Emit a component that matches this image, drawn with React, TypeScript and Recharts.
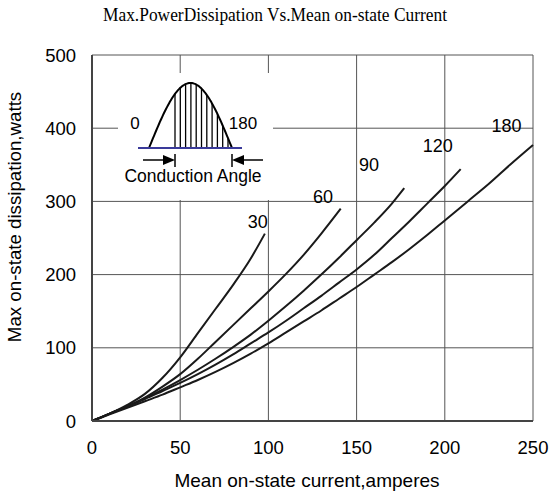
import React from 'react';
import {
  LineChart, Line, XAxis, YAxis, CartesianGrid, ReferenceDot,
} from 'recharts';

// [mean current (A), max dissipation (W)]
const angle30: [number, number][] = [[0, 0], [10, 10], [20, 22], [30, 37], [40, 59], [50, 87], [60, 120], [70, 153], [80, 186], [90, 222], [98, 256]];
const angle60: [number, number][] = [[0, 0], [10, 10], [20, 20], [30, 32], [40, 47], [50, 64], [60, 85], [70, 108], [80, 131], [90, 154], [100, 177], [110, 201], [120, 227], [130, 256], [141, 290]];
const angle90: [number, number][] = [[0, 0], [10, 10], [20, 20], [30, 31], [40, 43], [50, 56], [60, 70], [70, 85], [80, 101], [90, 118], [100, 137], [110, 157], [120, 178], [130, 200], [140, 223], [150, 247], [160, 271], [170, 297], [177, 318]];
const angle120: [number, number][] = [[0, 0], [10, 10], [20, 20], [30, 30], [40, 41], [50, 52], [60, 64], [70, 77], [80, 91], [90, 106], [100, 121], [110, 137], [120, 154], [130, 171], [140, 189], [150, 207], [160, 227], [170, 250], [180, 273], [190, 297], [200, 321], [209, 344]];
const angle180: [number, number][] = [[0, 0], [10, 9], [20, 18], [30, 27], [40, 36], [50, 46], [60, 56], [70, 67], [80, 79], [90, 92], [100, 106], [110, 121], [120, 136], [130, 151], [140, 167], [150, 183], [160, 200], [170, 217], [180, 235], [190, 254], [200, 274], [213, 300], [225, 324], [237, 350], [250, 377]];

const xTicks = [0, 50, 100, 150, 200, 250];
const yTicks = [0, 100, 200, 300, 400, 500];

const curveLabels = [
  { text: '30', x: 94, y: 273 },
  { text: '60', x: 131, y: 306 },
  { text: '90', x: 157, y: 350 },
  { text: '120', x: 196, y: 376 },
  { text: '180', x: 235, y: 404 },
];

const series = [angle30, angle60, angle90, angle120, angle180];

const FONT = '"Liberation Sans", Arial, sans-serif';

function toRows(pts: [number, number][]) {
  return pts.map(([x, y]) => ({ x, y }));
}

// title, axis titles and the conduction-angle sketch, drawn over the chart
function Overlay() {
  const x0 = 149, x1 = 232, base = 148, amp = 65;
  const wave = (x: number) => base - amp * Math.sin((Math.PI * (x - x0)) / (x1 - x0));
  const pts: string[] = [];
  for (let x = x0; x <= x1; x += 1) pts.push(`${x},${wave(x).toFixed(1)}`);
  const hatch: number[] = [];
  for (let x = 175; x <= 229; x += 5.3) hatch.push(x);
  return (
    <svg width={554} height={495} style={{ position: 'absolute', left: 0, top: 0, pointerEvents: 'none' }}>
      <text x={103} y={21} textLength={344} lengthAdjust="spacingAndGlyphs"
        style={{ fontFamily: '"Liberation Serif", serif', fontSize: 18.5 }} fill="#000">
        Max.PowerDissipation Vs.Mean on-state Current
      </text>
      <text x={307} y={487} textAnchor="middle" style={{ fontFamily: FONT, fontSize: 19 }} fill="#000">
        Mean on-state current,amperes
      </text>
      <text x={21} y={217} textAnchor="middle" transform="rotate(-90 21 217)"
        style={{ fontFamily: FONT, fontSize: 18.7 }} fill="#000">
        Max on-state dissipation,watts
      </text>
      <rect x={118} y={73} width={155} height={127} fill="#fff" />
      {hatch.map((x) => (
        <line key={x} x1={x} x2={x} y1={base} y2={wave(x)} stroke="#000" strokeWidth={1.3} />
      ))}
      <polyline points={pts.join(' ')} fill="none" stroke="#000" strokeWidth={2} />
      <line x1={138} x2={242} y1={base} y2={base} stroke="#3a3a9a" strokeWidth={2} />
      <text x={135} y={129} textAnchor="middle" style={{ fontFamily: FONT, fontSize: 17 }}>0</text>
      <text x={243} y={129} textAnchor="middle" style={{ fontFamily: FONT, fontSize: 17 }}>180</text>
      <line x1={143} x2={164} y1={160} y2={160} stroke="#000" strokeWidth={1.5} />
      <polygon points="163,155 175,160 163,165" fill="#000" />
      <line x1={175} x2={175} y1={154} y2={167} stroke="#000" strokeWidth={1.5} />
      <line x1={232} x2={232} y1={154} y2={167} stroke="#000" strokeWidth={1.5} />
      <polygon points="244,155 232,160 244,165" fill="#000" />
      <line x1={243} x2={263} y1={160} y2={160} stroke="#000" strokeWidth={1.5} />
      <text x={193} y={182} textAnchor="middle" style={{ fontFamily: FONT, fontSize: 17.5 }}>Conduction Angle</text>
    </svg>
  );
}

export default function App() {
  return (
    <div style={{ position: 'absolute', left: 0, top: 0, width: 554, height: 495, background: '#fff' }}>
      <LineChart width={554} height={495} margin={{ top: 55, right: 21, left: 0, bottom: 0 }}>
        <CartesianGrid stroke="#555" strokeWidth={1} horizontalValues={yTicks} verticalValues={xTicks} />
        <XAxis
          type="number"
          dataKey="x"
          domain={[0, 250]}
          ticks={xTicks}
          height={74}
          tickLine={false}
          tickMargin={14}
          axisLine={{ stroke: '#444', strokeWidth: 2 }}
          tick={{ fill: '#000', fontSize: 18.5, fontFamily: FONT }}
        />
        <YAxis
          type="number"
          domain={[0, 500]}
          ticks={yTicks}
          width={92}
          tickLine={false}
          tickMargin={10}
          axisLine={{ stroke: '#444', strokeWidth: 2 }}
          tick={{ fill: '#000', fontSize: 18.5, fontFamily: FONT }}
        />
        {series.map((s, i) => (
          <Line
            key={i}
            data={toRows(s)}
            dataKey="y"
            type="monotone"
            stroke="#1a1a1a"
            strokeWidth={2}
            dot={false}
            isAnimationActive={false}
          />
        ))}
        {curveLabels.map((l) => (
          <ReferenceDot key={l.text} x={l.x} y={l.y} r={0} stroke="none"
            label={{ value: l.text, position: 'center', fill: '#000', fontSize: 18, fontFamily: FONT }} />
        ))}
      </LineChart>
      <Overlay />
    </div>
  );
}
